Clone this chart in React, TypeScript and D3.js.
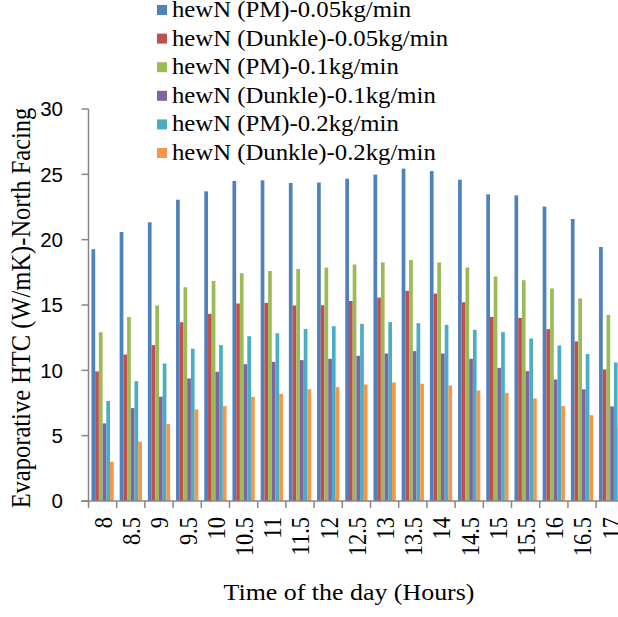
import React from "react";
import * as d3 from "d3";

const categories = ["8", "8.5", "9", "9.5", "10", "10.5", "11", "11.5", "12", "12.5", "13", "13.5", "14", "14.5", "15", "15.5", "16", "16.5", "17"];
const seriesNames = [
  "hewN (PM)-0.05kg/min",
  "hewN (Dunkle)-0.05kg/min",
  "hewN (PM)-0.1kg/min",
  "hewN (Dunkle)-0.1kg/min",
  "hewN (PM)-0.2kg/min",
  "hewN (Dunkle)-0.2kg/min",
];
const pm005 = [19.27, 20.59, 21.33, 23.06, 23.7, 24.49, 24.54, 24.34, 24.37, 24.67, 24.98, 25.44, 25.25, 24.59, 23.47, 23.39, 22.53, 21.58, 19.44];
const dunkle005 = [9.92, 11.21, 11.93, 13.68, 14.32, 15.11, 15.16, 14.96, 14.98, 15.31, 15.57, 16.08, 15.87, 15.21, 14.09, 14.01, 13.15, 12.21, 10.07];
const pm01 = [12.92, 14.09, 14.96, 16.36, 16.84, 17.43, 17.6, 17.76, 17.87, 18.1, 18.27, 18.45, 18.26, 17.87, 17.18, 16.9, 16.26, 15.5, 14.24];
const dunkle01 = [5.94, 7.11, 7.98, 9.38, 9.89, 10.47, 10.65, 10.78, 10.88, 11.11, 11.29, 11.47, 11.29, 10.88, 10.19, 9.94, 9.3, 8.54, 7.24];
const pm02 = [7.65, 9.17, 10.52, 11.65, 11.93, 12.61, 12.84, 13.17, 13.38, 13.56, 13.69, 13.61, 13.48, 13.1, 12.92, 12.44, 11.9, 11.24, 10.6];
const dunkle02 = [3.01, 4.54, 5.89, 7.01, 7.26, 7.98, 8.2, 8.56, 8.72, 8.92, 9.07, 8.97, 8.84, 8.46, 8.28, 7.85, 7.26, 6.57, 5.6];
const yTicks = [0, 5, 10, 15, 20, 25, 30];
const colors = ["#4F81BD", "#C0504D", "#9BBB59", "#8064A2", "#4BACC6", "#F79646"];
const allSeries = [pm005, dunkle005, pm01, dunkle01, pm02, dunkle02];

const axisColor = "#868686";
const serif = "'Liberation Serif', 'Times New Roman', serif";
const sans = "'Liberation Sans', Arial, sans-serif";

export default function App() {
  const W = 618, H = 617;
  const x0 = 88.5;
  const band = 28.2;
  const yBase = 501, yTop = 109;

  const x = d3.scaleBand<string>()
    .domain(categories)
    .range([x0, x0 + band * categories.length])
    .paddingInner(0.21)
    .paddingOuter(0.105);
  const x1 = d3.scaleBand<number>()
    .domain(d3.range(allSeries.length))
    .range([0, x.bandwidth()]);
  const y = d3.scaleLinear().domain([0, 30]).range([yBase, yTop]);

  const step = x.step();
  const legendBase = 17;
  const legendStep = 28.6;

  return (
    <svg width={W} height={H} style={{ position: "absolute", left: 0, top: 0, background: "#fff" }}>
      <rect width={W} height={H} fill="#fff" />
      {categories.map((c, i) => (
        <g key={c}>
          {allSeries.map((s, k) => (
            <rect
              key={k}
              x={(x(c) as number) + (x1(k) as number)}
              y={y(s[i])}
              width={x1.bandwidth()}
              height={yBase - y(s[i])}
              fill={colors[k]}
            />
          ))}
        </g>
      ))}
      <line x1={x0} x2={x0} y1={yTop} y2={yBase} stroke={axisColor} strokeWidth={1.5} />
      {yTicks.map((t) => (
        <g key={t}>
          <line x1={x0 - 7} x2={x0} y1={y(t)} y2={y(t)} stroke={axisColor} strokeWidth={1.5} />
          <text x={63} y={y(t)} dy="0.36em" textAnchor="end" fontFamily={sans} fontSize={20.5} fill="#000">
            {t}
          </text>
        </g>
      ))}
      <line x1={x0 - 7} x2={W + 10} y1={yBase} y2={yBase} stroke={axisColor} strokeWidth={1.5} />
      {categories.map((c, i) => (
        <line key={"t" + c} x1={x0 + step * i} x2={x0 + step * i} y1={yBase} y2={yBase + 7} stroke={axisColor} strokeWidth={1.5} />
      ))}
      <line x1={x0 + step * categories.length} x2={x0 + step * categories.length} y1={yBase} y2={yBase + 7} stroke={axisColor} strokeWidth={1.5} />
      {categories.map((c) => (
        <g key={"l" + c} transform={`translate(${(x(c) as number) + x.bandwidth() / 2 + 1},517) scale(1.1,1)`}>
          <text transform="rotate(-90)" dy="0.34em" textAnchor="end" fontFamily={serif} fontSize={22.5} fill="#000">
            {c}
          </text>
        </g>
      ))}
      <g transform={`translate(349,600) scale(1.08,1)`}>
        <text textAnchor="middle" fontFamily={serif} fontSize={24} fill="#000">
          Time of the day (Hours)
        </text>
      </g>
      <g transform={`translate(30,308) scale(1.1,1)`}>
        <text transform="rotate(-90)" textAnchor="middle" fontFamily={serif} fontSize={24.5} fill="#000">
          Evaporative HTC (W/mK)-North Facing
        </text>
      </g>
      {seriesNames.map((n, k) => (
        <g key={n} transform={`translate(0,${legendBase + legendStep * k})`}>
          <rect x={157} y={-12} width={10} height={10} fill={colors[k]} />
          <g transform="translate(172,0) scale(1.1,1)">
            <text x={0} y={0} fontFamily={serif} fontSize={22.5} fill="#000">
              {n}
            </text>
          </g>
        </g>
      ))}
    </svg>
  );
}
